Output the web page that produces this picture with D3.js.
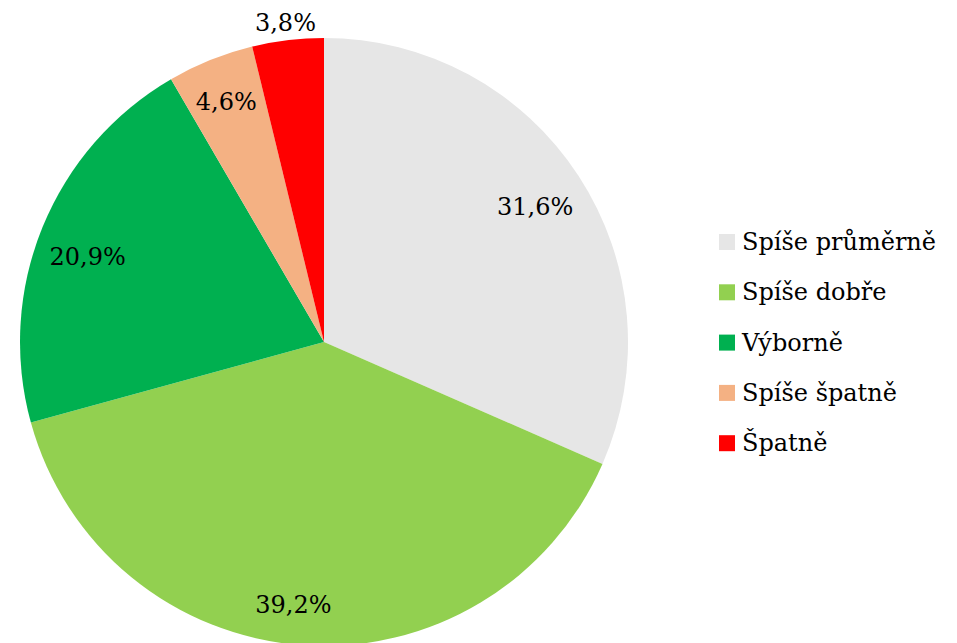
<!DOCTYPE html>
<html lang="cs">
<head>
    <meta charset="utf-8">
    <title>Pie</title>
    <script src="https://d3js.org/d3.v7.js"></script>
    <style>
        body { margin: 0; background: #fff; }
        text { font-family: "DejaVu Serif", serif; font-size: 24px; fill: #000; }
    </style>
</head>
<body>
<svg width="957" height="643"></svg>
<script type="text/javascript">
    const categories = ["Spíše průměrně", "Spíše dobře", "Výborně", "Spíše špatně", "Špatně"];
    const values = [31.6, 39.2, 20.9, 4.6, 3.8];
    const labels = ["31,6%", "39,2%", "20,9%", "4,6%", "3,8%"];
    const colors = ["#E6E6E6", "#92D050", "#00B050", "#F4B183", "#FF0000"];

    let svg = d3.select("svg");
    let cx = 324, cy = 342, radius = 304;

    let pie = d3.pie().sort(null).value(d => d);
    let arcs = pie(values);

    let arc = d3.arc().innerRadius(0).outerRadius(radius);

    let g = svg.append("g").attr("transform", `translate(${cx},${cy})`);

    g.selectAll("path")
        .data(arcs)
        .join("path")
        .attr("d", arc)
        .style("fill", (d, i) => colors[i]);

    // label radius: inside for big slices, outside for the tiny one
    function labelRadius(d, i) {
        if (i === arcs.length - 1) return radius + 20;
        if (i === 1 || i === 3) return radius * 0.86;
        return radius * 0.83;
    }

    g.selectAll("text.lbl")
        .data(arcs)
        .join("text")
        .attr("class", "lbl")
        .attr("text-anchor", "middle")
        .attr("dominant-baseline", "central")
        .attr("transform", (d, i) => {
            let r = labelRadius(d, i);
            // Excel nudges the labels a little against the slice direction
            let a = (d.startAngle + d.endAngle) / 2 + (i === 1 ? 0.045 : i === 2 ? -0.03 : 0);
            return `translate(${Math.sin(a) * r},${-Math.cos(a) * r + 3})`;
        })
        .text((d, i) => labels[i]);

    // legend
    let legend = svg.append("g").attr("transform", "translate(719,242)");
    let row = legend.selectAll("g")
        .data(categories)
        .join("g")
        .attr("transform", (d, i) => `translate(0,${i * 50.3})`);
    row.append("rect")
        .attr("x", 0).attr("y", -8)
        .attr("width", 16).attr("height", 16)
        .style("fill", (d, i) => colors[i]);
    row.append("text")
        .attr("x", 23)
        .attr("dominant-baseline", "central")
        .text(d => d);
</script>
</body>
</html>
